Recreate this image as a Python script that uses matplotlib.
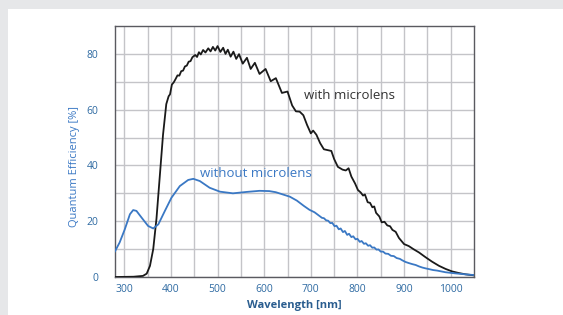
import numpy as np
import matplotlib
matplotlib.use("Agg")
import matplotlib.pyplot as plt
from matplotlib.patches import Rectangle

# quantum efficiency curves
wl_with = [280, 320, 340, 348, 355, 362, 369, 376, 383, 390, 395, 398, 402, 406,
           410, 414, 418, 422, 426, 430, 434, 438, 442, 446, 452, 456, 460, 464,
           469, 474, 480, 485, 490, 495, 500, 506, 512, 517, 522, 528, 534, 540,
           546, 554, 563, 571, 580, 590, 603, 614, 625, 638, 650, 660, 668, 676,
           684, 692, 700, 705, 712, 720, 728, 736, 744, 750, 758, 768, 775, 781,
           787, 795, 801, 807, 812, 816, 822, 827, 832, 836, 840, 847, 852, 858,
           864, 870, 875, 882, 889, 900, 910, 920, 932, 946, 960, 975, 989, 1003,
           1018, 1032, 1050]
qe_with = [0.0, 0.1, 0.4, 1.2, 4.0, 10, 21, 36, 51, 62, 64.8, 65.5, 69.0, 69.8,
           71.0, 72.3, 72.2, 73.8, 74.0, 75.5, 75.8, 77.2, 77.4, 78.8, 79.6, 78.9, 80.6, 79.8,
           81.4, 80.5, 82.0, 80.9, 82.5, 81.2, 82.8, 80.7, 82.2, 80.0, 81.5, 79.0, 80.8, 78.2,
           79.9, 76.5, 78.6, 74.6, 76.8, 72.8, 74.6, 70.2, 71.3, 66.0, 66.5, 61.5, 59.4, 59.3,
           58.0, 54.5, 51.5, 52.5, 51.0, 48.0, 45.8, 45.5, 45.2, 42.3, 39.5, 38.5, 38.2, 39.0,
           36.0, 33.5, 31.2, 30.3, 29.2, 29.6, 26.8, 26.6, 25.0, 25.3, 23.0, 21.7, 19.6, 19.8,
           18.5, 18.2, 16.9, 16.2, 14.0, 11.8, 11.1, 10.0, 8.8, 7.1, 5.5, 4.0, 2.9, 2.0,
           1.4, 0.95, 0.6]

wl_without = [280, 290, 301, 312, 319, 326, 337, 351, 362, 373, 387, 401, 419, 437,
              448, 462, 483, 505, 533, 562, 590, 611, 625, 640, 655, 670, 685, 697,
              708, 720, 724, 728, 733, 737, 742, 746, 751, 755, 760, 764, 769, 773,
              778, 782, 787, 791, 796, 800, 805, 809, 814, 818, 823, 827, 832, 836,
              841, 845, 850, 855, 860, 866, 872, 878, 884, 891, 896, 903, 910, 918,
              925, 932, 939, 946, 953, 962, 971, 989, 1010, 1032, 1050]
qe_without = [9.2, 12.4, 17.1, 22.5, 24.0, 23.7, 21.3, 18.3, 17.4, 18.9, 23.7, 28.4, 32.6, 34.8,
              35.2, 34.4, 32.0, 30.6, 30.0, 30.5, 30.9, 30.8, 30.4, 29.6, 28.8, 27.4, 25.5, 24.1,
              23.2, 21.7, 21.2, 21.1, 20.3, 20.2, 19.3, 19.4, 18.2, 18.4, 17.1, 17.4, 16.1, 16.5,
              15.1, 15.5, 14.3, 14.6, 13.5, 13.7, 12.6, 12.9, 11.9, 12.1, 11.2, 11.4, 10.5, 10.6,
              9.8, 9.9, 9.1, 9.1, 8.4, 8.3, 7.6, 7.5, 6.8, 6.5, 6.0, 5.4, 5.0, 4.6,
              4.3, 3.8, 3.4, 3.1, 2.85, 2.5, 2.3, 1.7, 1.3, 0.95, 0.7]

x_ticks = [300, 400, 500, 600, 700, 800, 900, 1000]
y_ticks = [0, 20, 40, 60, 80]

plt.rcParams['font.family'] = ['Open Sans', 'DejaVu Sans']

fig = plt.figure(figsize=(5.63, 3.15), dpi=100, facecolor='#e6e7e9')
fig.patches.append(Rectangle((8 / 563, 0), 1, 1 - 9 / 315, transform=fig.transFigure,
                             facecolor='white', edgecolor='none', zorder=-10))
ax = fig.add_axes([115 / 563, 1 - 277 / 315, 359 / 563, 251 / 315])
ax.set_facecolor('white')

ax.plot(wl_with, qe_with, color='#1a1a1a', lw=1.3, zorder=3)
ax.plot(wl_without, qe_without, color='#3a78c4', lw=1.3, zorder=3)

ax.set_xlim(280, 1050)
ax.set_ylim(0, 90)
ax.set_xticks(x_ticks)
ax.set_yticks(y_ticks)
ax.set_xticks(np.arange(300, 1050, 50), minor=True)
ax.set_yticks(np.arange(10, 90, 10), minor=True)
ax.grid(which='both', color='#c4c4c8', lw=1.0, zorder=1)
ax.tick_params(which='both', length=0)
ax.tick_params(axis='y', pad=12, labelsize=7.5, labelcolor='#2e6aa2')
ax.tick_params(axis='x', pad=5, labelsize=7.5, labelcolor='#2e6aa2')
for s in ax.spines.values():
    s.set_color('#5a5a60')
    s.set_linewidth(1.0)

ax.set_ylabel('Quantum Efficiency [%]', color='#3a78c4', fontsize=8)
ax.yaxis.set_label_coords(-0.097, 0.44)
ax.set_xlabel('Wavelength [nm]', color='#2a5d8f', fontsize=8, fontweight='bold')
ax.xaxis.set_label_coords(0.5, -0.092)

ax.text(686, 65, 'with microlens', color='#333333', fontsize=9.5, va='center', ha='left')
ax.text(462, 37, 'without microlens', color='#3a78c4', fontsize=9.5, va='center', ha='left')

fig.savefig('out.png', dpi=100, facecolor=fig.get_facecolor())
